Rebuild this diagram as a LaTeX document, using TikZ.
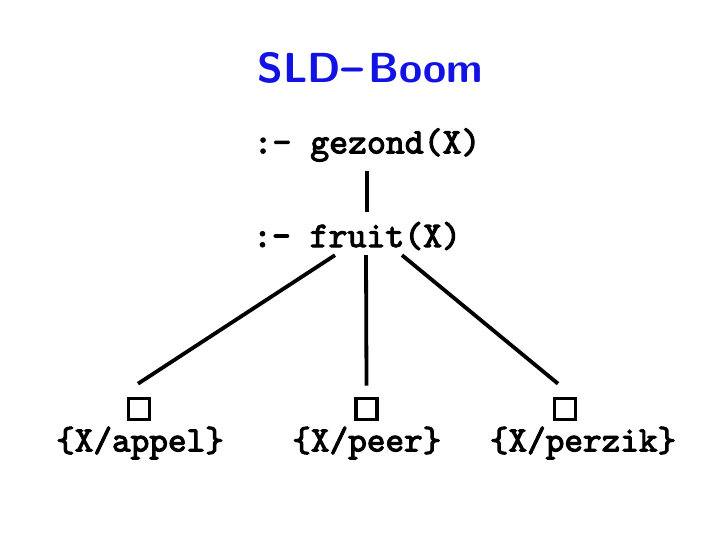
\documentclass[tikz,border=0pt]{standalone}
\usepackage{fontspec}
\setmainfont{Liberation Sans}
\newfontfamily\codefont{lmmono10-regular}[Extension=.otf, FakeBold=3]
\usetikzlibrary{positioning}
\definecolor{titleblue}{RGB}{18, 18, 228}

\begin{document}
\begin{tikzpicture}[
    x=1pt, y=-1pt,
    goal/.style={font=\fontsize{36}{36}\selectfont\codefont, inner sep=0pt},
    leaf/.style={draw, line width=3.6pt, minimum size=21pt, inner sep=0pt},
    subst/.style={font=\fontsize{35.5}{35.5}\selectfont\codefont, inner sep=0pt},
    edge/.style={line width=3.8pt}
]
\useasboundingbox (0,0) rectangle (720,540);
% Title
\node[font=\fontsize{42}{42}\selectfont\sffamily\bfseries, text=titleblue] (title) at (370.5,68) {SLD\scalebox{1.8}[1.3]{-}Boom};
% Goals
\node[goal] (g1) at (367,145) {:- gezond(X)};
\node[goal] (g2) at (357,236) {:- fruit(X)};
% Empty clauses
\node[leaf] (b1) at (139,409) {};
\node[leaf] (b2) at (366.5,409) {};
\node[leaf] (b3) at (565,409) {};
% Substitutions
\node[subst] (s1) at (140,443) {\{X/appel\}};
\node[subst, right=68pt of s1] (s2) {\{X/peer\}};
\node[subst] (s3) at (583,443) {\{X/perzik\}};
% Edges
\draw[edge] ([yshift=-9pt]g1.south) -- ([yshift=10pt]g1.south |- g2.north);
\draw[edge] ([xshift=-22pt,yshift=-5pt]g2.south) -- ([xshift=-1pt,yshift=13pt]b1.north);
\draw[edge] ([xshift=9pt,yshift=-5pt]g2.south) -- ([yshift=11pt]b2.north);
\draw[edge] ([xshift=45pt,yshift=-5pt]g2.south) -- ([xshift=-7pt,yshift=13pt]b3.north);
\end{tikzpicture}
\end{document}
